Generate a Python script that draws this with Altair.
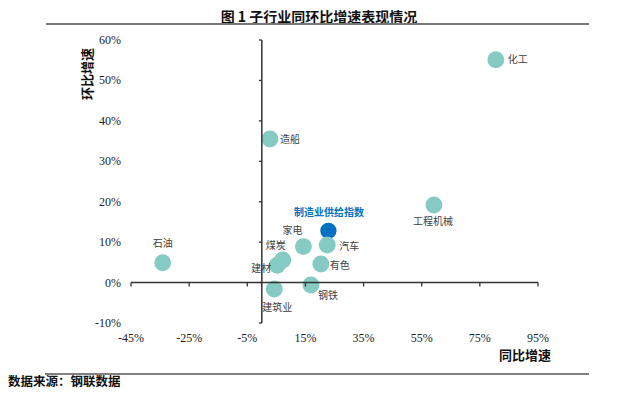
import altair as alt
import pandas as pd

# ---- data ----
NAMES = ["制造业供给指数", "化工", "造船", "工程机械", "汽车", "家电", "煤炭", "建材", "有色", "钢铁", "建筑业", "石油"]
YOY = [22.9, 80.5, 2.8, 59.2, 22.5, 14.3, 7.2, 5.3, 20.3, 16.9, 4.3, -34.1]   # 同比增速 (%)
MOM = [12.8, 55.1, 35.5, 19.2, 9.3, 8.9, 5.6, 4.3, 4.6, -0.6, -1.6, 4.9]      # 环比增速 (%)
HIGHLIGHT = "制造业供给指数"

X_TICKS = [-45, -25, -5, 15, 35, 55, 75, 95]
Y_TICKS = [-10, 0, 10, 20, 30, 40, 50, 60]
X_TICK_LABELS = ["-45%", "-25%", "-5%", "15%", "35%", "55%", "75%", "95%"]
Y_TICK_LABELS = ["-10%", "0%", "10%", "20%", "30%", "40%", "50%", "60%"]

TITLE = "图 1  子行业同环比增速表现情况"
X_TITLE = "同比增速"
Y_TITLE = "环比增速"
SOURCE = "数据来源：钢联数据"

# label placement (pixel offsets from point centre)
LABEL_DX = [0.5, 22, 20, -1, 22, -11, -7, -16, 19, 17, 3, 0]
LABEL_DY = [-18, 0, 1, 17, 2, -16, -14, 4, 2.5, 11, 19, -18.5]

# ---- styling ----
TEAL = "#86CBC3"
BLUE = "#0070C0"
CJK = "Noto Sans CJK SC"
SERIF = "Liberation Serif"
W, H = 407, 283

df = pd.DataFrame({"name": NAMES, "yoy": YOY, "mom": MOM})

xs = alt.Scale(domain=[X_TICKS[0], X_TICKS[-1]], nice=False, zero=False)
ys = alt.Scale(domain=[Y_TICKS[0], Y_TICKS[-1]], nice=False, zero=False)


def X(f):
    return alt.X(f, scale=xs, axis=None)


def Y(f):
    return alt.Y(f, scale=ys, axis=None)


base = alt.Chart(df)

points_blue = base.transform_filter(alt.datum.name == HIGHLIGHT).mark_circle(
    size=265, opacity=1, color=BLUE
).encode(x=X("yoy:Q"), y=Y("mom:Q"))

points_teal = base.transform_filter(alt.datum.name != HIGHLIGHT).mark_circle(
    size=285, opacity=1, color=TEAL
).encode(x=X("yoy:Q"), y=Y("mom:Q"))

# crossing axis lines
hline = alt.Chart(pd.DataFrame({"x": [X_TICKS[0]], "x2": [X_TICKS[-1]], "y": [0]})).mark_rule(
    color="#333", strokeWidth=1.5
).encode(x=X("x:Q"), x2="x2:Q", y=Y("y:Q"))
vline = alt.Chart(pd.DataFrame({"y": [Y_TICKS[0]], "y2": [Y_TICKS[-1]], "x": [0]})).mark_rule(
    color="#333", strokeWidth=1.5
).encode(y=Y("y:Q"), y2="y2:Q", x=X("x:Q"))
xticks = alt.Chart(pd.DataFrame({"x": X_TICKS, "y": 0, "y2": -1})).mark_rule(
    color="#333", strokeWidth=1.3
).encode(x=X("x:Q"), y=Y("y:Q"), y2="y2:Q")
yticks = alt.Chart(pd.DataFrame({"y": Y_TICKS, "x": 0, "x2": -1})).mark_rule(
    color="#333", strokeWidth=1.3
).encode(y=Y("y:Q"), x=X("x:Q"), x2="x2:Q")

# tick labels (outer, at the bottom and left of the plot area)
xlab = alt.Chart(pd.DataFrame({"x": X_TICKS, "t": X_TICK_LABELS, "y": Y_TICKS[0]})).mark_text(
    font=SERIF, fontSize=12, color="#222", align="center", baseline="middle", dy=15
).encode(x=X("x:Q"), y=Y("y:Q"), text="t:N")
ylab = alt.Chart(pd.DataFrame({"y": Y_TICKS, "t": Y_TICK_LABELS, "x": X_TICKS[0]})).mark_text(
    font=SERIF, fontSize=12, color="#222", align="right", baseline="middle", dx=-10
).encode(x=X("x:Q"), y=Y("y:Q"), text="t:N")

# point labels
labels = []
for n, dx, dy in zip(NAMES, LABEL_DX, LABEL_DY):
    hl = n == HIGHLIGHT
    labels.append(
        base.transform_filter(alt.datum.name == n).mark_text(
            dx=dx, dy=dy, align="center", baseline="middle", font=CJK,
            fontSize=10, fontWeight="bold" if hl else "normal",
            color=BLUE if hl else "#404040",
        ).encode(x=X("yoy:Q"), y=Y("mom:Q"), text="name:N")
    )


# decorations (titles, rules, source)
def txt(t, x, y, **kw):
    return alt.Chart(pd.DataFrame({"t": [t]})).mark_text(**kw).encode(
        x=alt.value(x), y=alt.value(y), text="t:N")


title = txt(TITLE, 188, -22.5, font=CJK, fontSize=14, fontWeight="bold", color="#111",
            align="center", baseline="middle")
xtitle = txt(X_TITLE, 394, 316, font=CJK, fontSize=13, fontWeight="bold", color="#111",
             align="center", baseline="middle")
ytitle = txt(Y_TITLE, -43, 34, font=CJK, fontSize=13, fontWeight="bold", color="#111",
             align="center", baseline="middle", angle=270)
source = txt(SOURCE, -123, 342, font=CJK, fontSize=12.5, fontWeight="bold", color="#111",
             align="left", baseline="middle")

dummy = alt.Chart(pd.DataFrame({"a": [0]}))
top_line = dummy.mark_rule(color="#777", strokeWidth=2).encode(
    x=alt.value(-85), x2=alt.value(458), y=alt.value(-16))
bottom_line = dummy.mark_rule(color="#555", strokeWidth=1.5).encode(
    x=alt.value(-86), x2=alt.value(458), y=alt.value(334))

chart = alt.layer(
    points_blue, points_teal, hline, vline, xticks, yticks, xlab, ylab, *labels,
    title, xtitle, ytitle, source, top_line, bottom_line
).properties(
    width=W, height=H,
    autosize=alt.AutoSizeParams(type="none"),
    padding={"left": 123, "top": 32, "right": 94, "bottom": 67},
).configure(background="white", view=alt.ViewConfig(stroke=None))

chart.save("out.html", embed_options={"renderer": "svg", "actions": False})
